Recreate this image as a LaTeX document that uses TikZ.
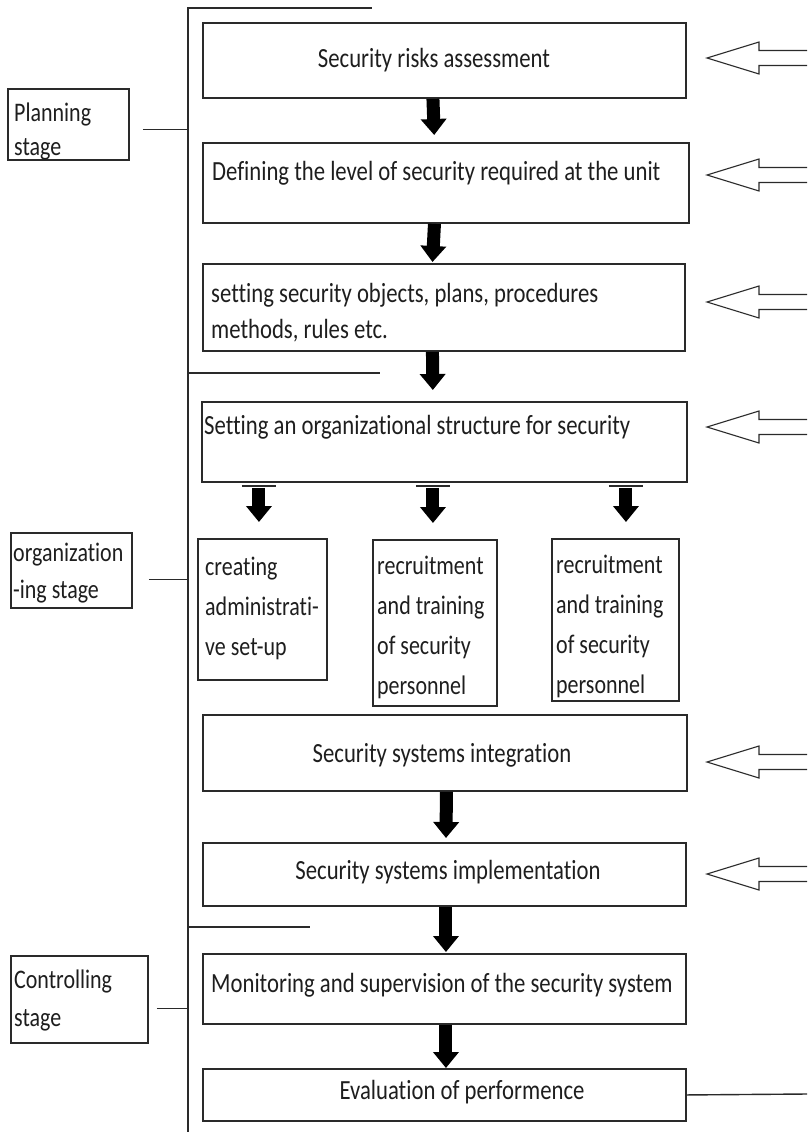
\documentclass[tikz,border=0pt]{standalone}
\usepackage{fontspec}
\setmainfont{Carlito}[FakeStretch=0.82,Ligatures={NoCommon}]
\usetikzlibrary{arrows.meta}
\definecolor{lc}{HTML}{2A2A2A}
\definecolor{tc}{HTML}{1E1E1E}
\begin{document}
\begin{tikzpicture}[x=1pt,y=-1pt,
  box/.style={draw=lc, line width=1.9pt, inner sep=0pt},
  txt/.style={font=\fontsize{27.7}{36}\selectfont, text=tc, inner sep=0pt, align=left},
  subtxt/.style={font=\fontsize{26.8}{40}\selectfont, text=tc, inner sep=0pt, align=left, anchor=west},
  blk/.style={line width=13pt, black, -{Triangle[width=25pt,length=16pt]}},
  thin/.style={draw=lc, line width=1.4pt},
  oarrow/.pic={\draw[lc, line width=1.1pt, line join=miter] (0,-7.5) -- (-48,-7.5) -- (-48,-16) -- (-100,0) -- (-48,16) -- (-48,7.5) -- (0,7.5);}
]
\useasboundingbox (0,0) rectangle (807,1132);
\fill[white] (0,0) rectangle (807,1132);

% main spine
\coordinate (vtop) at (188,8);
\coordinate (vbot) at (188,1132);
\coordinate (ttop) at (372,8);
\draw[thin] (vbot) -- (vtop) -- (ttop);
\coordinate (h1) at (380,373);
\coordinate (h2) at (310,927);
\draw[thin] (h1 -| vtop) -- (h1);
\draw[thin] (h2 -| vtop) -- (h2);

% main boxes
\node[box, minimum width=483pt, minimum height=75pt, anchor=north west] (b1) at (202,22) {};
\node[box, minimum width=486pt, minimum height=80pt, anchor=north west] (b2) at (202,142) {};
\node[box, minimum width=482pt, minimum height=87pt, anchor=north west] (b3) at (202,263) {};
\node[box, minimum width=485pt, minimum height=80pt, anchor=north west] (b4) at (201,401) {};
\node[box, minimum width=129pt, minimum height=141pt, anchor=north west] (sa) at (197,538) {};
\node[box, minimum width=124pt, minimum height=166pt, anchor=north west] (sb) at (372,539) {};
\node[box, minimum width=127pt, minimum height=162pt, anchor=north west] (sc) at (551,538) {};
\node[box, minimum width=484pt, minimum height=76pt, anchor=north west] (b5) at (202,714) {};
\node[box, minimum width=483pt, minimum height=63pt, anchor=north west] (b6) at (202,842) {};
\node[box, minimum width=483pt, minimum height=70pt, anchor=north west] (b7) at (202,953) {};
\node[box, minimum width=483pt, minimum height=52pt, anchor=north west] (b8) at (202,1068) {};

% stage boxes
\node[box, minimum width=121pt, minimum height=71pt, anchor=north west] (ps) at (7,88) {};
\node[box, minimum width=121pt, minimum height=75pt, anchor=north west] (os) at (10,532) {};
\node[box, minimum width=137pt, minimum height=87pt, anchor=north west] (cs) at (10,955) {};

% texts
\node[txt] (t1) at (434,60) {Security risks assessment};
\node[txt, anchor=west] (t2) at (212,173) {Defining the level of security required at the unit};
\node[txt, anchor=west] (t3) at (211,313) {setting security objects, plans, procedures\\methods, rules etc.};
\node[txt, anchor=west] (t4) at (204,427) {Setting an organizational structure for security};
\node[subtxt] (ta) at (205,608) {creating\\administrati-\\ve set-up};
\node[subtxt] (tb) at (377,627) {recruitment\\and training\\of security\\personnel};
\node[subtxt] (tc) at (556,626) {recruitment\\and training\\of security\\personnel};
\node[txt] (t5) at (442,755) {Security systems integration};
\node[txt] (t6) at (448,872) {Security systems implementation};
\node[txt, anchor=west] (t7) at (211,985) {Monitoring and supervision of the security system};
\node[txt] (t8) at (462,1092) {Evaluation of performence};
\node[subtxt, font=\fontsize{26.8}{34}\selectfont] (tp) at (14,131) {Planning\\stage};
\node[subtxt, font=\fontsize{26.8}{37}\selectfont] (to) at (13,573) {organization\\-ing stage};
\node[subtxt, font=\fontsize{26.8}{38}\selectfont] (tcs) at (14,1000) {Controlling\\stage};

% stage connectors
\draw[thin] ([xshift=13pt,yshift=-5pt]ps.east) -- ([yshift=-5pt]ps.east -| vtop);
\draw[thin] ([xshift=16pt,yshift=-9pt]os.east) -- ([yshift=-9pt]os.east -| vtop);
\draw[thin] ([xshift=8pt,yshift=-9pt]cs.east) -- ([yshift=-9pt]cs.east -| vtop);

% black flow arrows
\draw[blk, shorten >=7pt] ([xshift=-11.5pt]b1.south) -- ([xshift=-11.5pt]b2.north);
\draw[blk, shorten >=1pt] ([xshift=-11.5pt]b2.south) -- ([xshift=-11.5pt]b3.north);
\draw[blk, shorten >=11pt] ([xshift=-11.5pt]b3.south) -- ([xshift=-11.5pt]b4.north);
\draw[blk, shorten >=4pt] ([xshift=1.5pt]b5.south) -- ([xshift=1.5pt]b6.north);
\draw[blk, shorten >=1pt] ([xshift=1.5pt]b6.south) -- ([xshift=1.5pt]b7.north);
\draw[blk, shorten >=0pt] ([xshift=1.5pt]b7.south) -- ([xshift=1.5pt]b8.north);
\foreach \dx/\tg in {-185.5/sa, -11.5/sb, 181.5/sc}{
  \draw[thin] ([xshift=\dx pt-17pt,yshift=-3pt]b4.south) -- ([xshift=\dx pt+17pt,yshift=-3pt]b4.south);
  \draw[blk, shorten <=5pt, shorten >=16pt] ([xshift=\dx pt]b4.south) -- ([xshift=\dx pt]b4.south |- \tg.north);
}

% open arrows on the right
\foreach \yy/\nm in {58/r1, 175/r2, 302/r3, 427/r4, 762/r5, 874/r6}{
  \coordinate (\nm) at (807,\yy);
  \pic at (\nm) {oarrow};
}

% feedback line
\coordinate (fend) at (807,1094);
\draw[thin] (b8.east) -- (fend);
\end{tikzpicture}
\end{document}
